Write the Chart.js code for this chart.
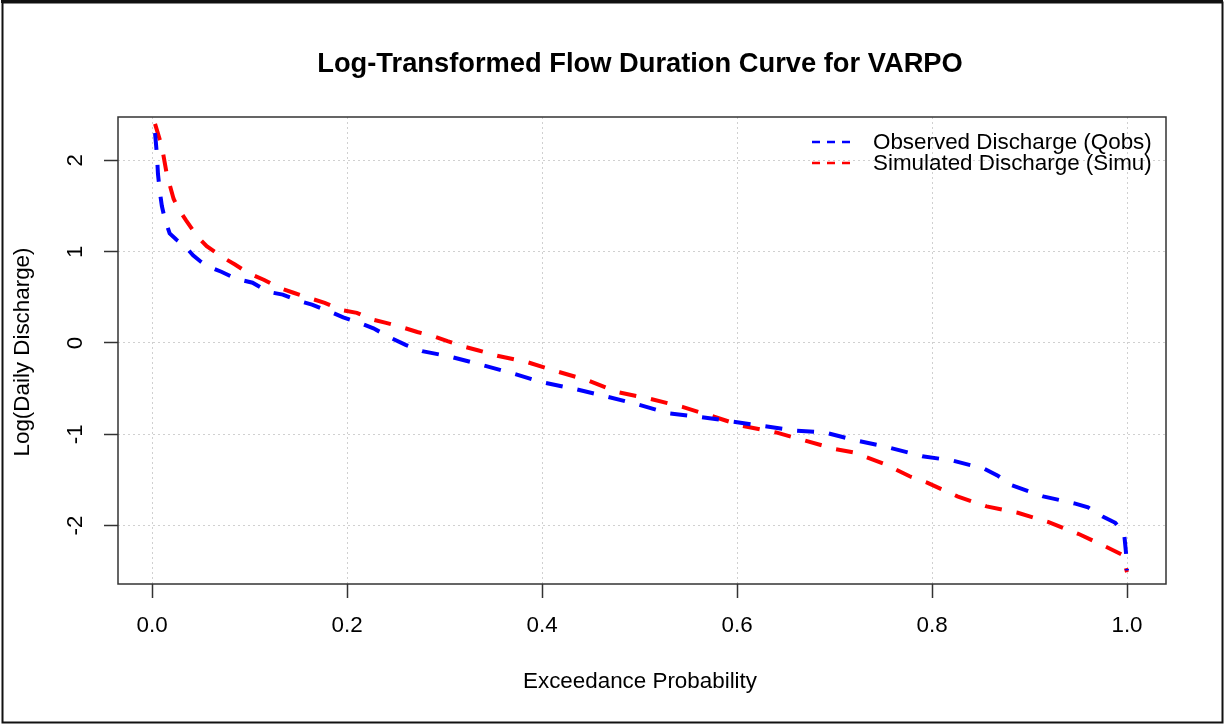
<!DOCTYPE html>
<html>
<head>
<meta charset="utf-8">
<script src="https://cdn.jsdelivr.net/npm/chart.js@4"></script>
<style>
  html, body { margin: 0; padding: 0; background: #fff; }
  #wrap { width: 1226px; height: 724px; }
</style>
</head>
<body>
<div id="wrap"><canvas id="Chart" width="1226" height="724"></canvas></div>
<script>
// exceedance probability / log discharge
const obsProb = [0.003, 0.005, 0.006, 0.008, 0.010, 0.013, 0.018, 0.025, 0.033, 0.042, 0.050, 0.057,
    0.071, 0.087, 0.103, 0.119, 0.134, 0.151, 0.164, 0.183, 0.196, 0.213, 0.227, 0.246, 0.260, 0.277,
    0.306, 0.338, 0.369, 0.400, 0.432, 0.464, 0.497, 0.530, 0.562, 0.595, 0.627, 0.660, 0.690, 0.723,
    0.750, 0.790, 0.822, 0.854, 0.867, 0.882, 0.914, 0.947, 0.960, 0.975, 0.988, 0.997, 0.999, 1.000];
const obsLog = [2.30, 2.05, 1.85, 1.65, 1.50, 1.36, 1.20, 1.13, 1.07, 0.96, 0.89, 0.84,
    0.78, 0.70, 0.66, 0.56, 0.53, 0.46, 0.42, 0.34, 0.28, 0.22, 0.16, 0.05, -0.02, -0.09,
    -0.15, -0.24, -0.33, -0.43, -0.50, -0.58, -0.67, -0.77, -0.81, -0.86, -0.91, -0.96, -0.98, -1.07,
    -1.13, -1.24, -1.29, -1.38, -1.45, -1.56, -1.68, -1.76, -1.80, -1.90, -1.97, -2.08, -2.30, -2.49];

const simProb = [0.003, 0.010, 0.015, 0.022, 0.027, 0.035, 0.046, 0.056, 0.072, 0.085, 0.098, 0.115,
    0.129, 0.145, 0.162, 0.177, 0.195, 0.210, 0.225, 0.240, 0.257, 0.272, 0.290, 0.303, 0.320, 0.334,
    0.354, 0.385, 0.415, 0.447, 0.478, 0.510, 0.544, 0.574, 0.606, 0.640, 0.670, 0.700, 0.720, 0.750,
    0.777, 0.795, 0.826, 0.856, 0.888, 0.919, 0.950, 0.980, 0.995, 1.000];
const simLog = [2.40, 2.15, 1.85, 1.58, 1.47, 1.34, 1.17, 1.06, 0.94, 0.86, 0.77, 0.69,
    0.61, 0.55, 0.49, 0.44, 0.36, 0.33, 0.26, 0.22, 0.17, 0.12, 0.07, 0.02, -0.04, -0.08,
    -0.14, -0.21, -0.31, -0.41, -0.54, -0.61, -0.70, -0.80, -0.91, -0.98, -1.07, -1.16, -1.20, -1.32,
    -1.46, -1.53, -1.68, -1.79, -1.86, -1.96, -2.09, -2.24, -2.32, -2.51];

const xTicks = [0, 0.2, 0.4, 0.6, 0.8, 1.0];
const yTicks = [-2, -1, 0, 1, 2];
const seriesNames = ['Observed Discharge (Qobs)', 'Simulated Discharge (Simu)'];
const seriesColors = ['#0000ff', '#ff0000'];

const FONT = '"Liberation Sans", Arial, sans-serif';

function pairs(xs, ys) {
    return xs.map((x, i) => ({ x: x, y: ys[i] }));
}

const decor = {
    id: 'decor',
    beforeDraw(chart) {
        const c = chart.ctx;
        c.save();
        c.fillStyle = '#fff';
        c.fillRect(0, 0, chart.width, chart.height);
        c.restore();
    },
    afterDraw(chart) {
        const c = chart.ctx;
        const a = chart.chartArea;
        const xs = chart.scales.x, ys = chart.scales.y;
        c.save();
        // plot box
        c.strokeStyle = '#333';
        c.lineWidth = 1.5;
        c.strokeRect(a.left, a.top, a.right - a.left, a.bottom - a.top);
        // outer frame
        c.strokeStyle = '#111';
        c.lineWidth = 2;
        c.strokeRect(2.5, 2.5, 1220, 720);
        c.lineWidth = 3;
        c.beginPath();
        c.moveTo(1, 1.5);
        c.lineTo(1223, 1.5);
        c.stroke();

        c.fillStyle = '#000';
        c.font = 'bold 27.3px ' + FONT;
        c.textAlign = 'center';
        c.textBaseline = 'middle';
        c.fillText('Log-Transformed Flow Duration Curve for VARPO', 640, 64);

        c.font = '22.4px ' + FONT;
        xTicks.forEach(v => {
            c.fillText(v.toFixed(1), xs.getPixelForValue(v), 626);
        });
        c.fillText('Exceedance Probability', 640, 682);

        yTicks.forEach(v => {
            c.save();
            c.translate(76, ys.getPixelForValue(v));
            c.rotate(-Math.PI / 2);
            c.fillText(String(v), 0, 0);
            c.restore();
        });
        c.save();
        c.translate(23, 352);
        c.rotate(-Math.PI / 2);
        c.fillText('Log(Daily Discharge)', 0, 0);
        c.restore();

        // legend
        c.textAlign = 'left';
        seriesNames.forEach((name, i) => {
            const y = 142 + i * 21;
            c.strokeStyle = seriesColors[i];
            c.lineWidth = 2.5;
            c.setLineDash([8, 7]);
            c.beginPath();
            c.moveTo(812, y);
            c.lineTo(853, y);
            c.stroke();
            c.setLineDash([]);
            c.fillStyle = '#000';
            c.fillText(name, 873, y + 1);
        });
        c.restore();
    }
};

const ctx = document.getElementById('Chart').getContext('2d');
const chart = new Chart(ctx, {
    type: 'line',
    data: {
        datasets: [
            {
                label: seriesNames[0],
                data: pairs(obsProb, obsLog),
                borderColor: seriesColors[0],
                borderWidth: 4,
                borderDash: [17, 15],
                pointRadius: 0,
                fill: false,
                tension: 0
            },
            {
                label: seriesNames[1],
                data: pairs(simProb, simLog),
                borderColor: seriesColors[1],
                borderWidth: 4,
                borderDash: [17, 15],
                pointRadius: 0,
                fill: false,
                tension: 0
            }
        ]
    },
    options: {
        responsive: false,
        animation: false,
        events: [],
        layout: { padding: { top: 117, right: 60, left: 0, bottom: 0 } },
        plugins: {
            legend: { display: false },
            title: { display: false },
            tooltip: { enabled: false }
        },
        scales: {
            x: {
                type: 'linear',
                min: -0.035,
                max: 1.04,
                afterBuildTicks: s => { s.ticks = xTicks.map(v => ({ value: v })); },
                afterFit: s => { s.height = 140; },
                ticks: { display: false },
                grid: {
                    color: '#d0d0d0',
                    lineWidth: 1,
                    tickLength: 14,
                    tickColor: '#333',
                    tickWidth: 1.5
                },
                border: { display: false, dash: [2, 3] }
            },
            y: {
                type: 'linear',
                min: -2.64,
                max: 2.475,
                afterBuildTicks: s => { s.ticks = yTicks.map(v => ({ value: v })); },
                afterFit: s => { s.width = 118; },
                ticks: { display: false },
                grid: {
                    color: '#d0d0d0',
                    lineWidth: 1,
                    tickLength: 14,
                    tickColor: '#333',
                    tickWidth: 1.5
                },
                border: { display: false, dash: [2, 3] }
            }
        }
    },
    plugins: [decor]
});
</script>
</body>
</html>
